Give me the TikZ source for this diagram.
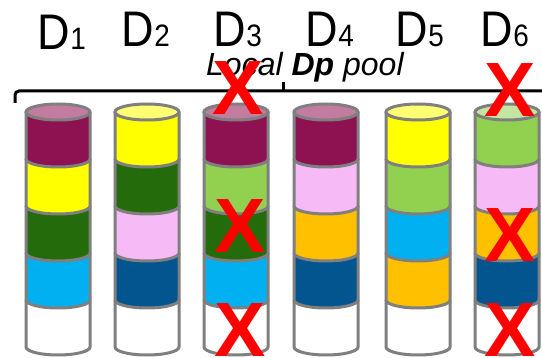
\documentclass[tikz,border=0pt]{standalone}
\usepackage{fontspec}
\setmainfont{Liberation Sans}

\definecolor{plum}{HTML}{8E1152}
\definecolor{lemon}{HTML}{FFFF00}
\definecolor{forest}{HTML}{236B0B}
\definecolor{sky}{HTML}{00B0F0}
\definecolor{blush}{HTML}{F6BAF6}
\definecolor{navy}{HTML}{02558E}
\definecolor{amber}{HTML}{FFC000}
\definecolor{lime}{HTML}{92D050}
\definecolor{rimgray}{HTML}{7F7F7F}

\begin{document}
\begin{tikzpicture}[x=1pt,y=-1pt,
        disk/.style = {draw = rimgray, line width = 3pt},
        lbl/.style = {anchor = base, xscale = 0.9, inner sep = 0pt, font = \fontsize{50}{50}\selectfont},
        cross/.style = {text = red, inner sep = 0pt, font = \fontsize{77}{77}\selectfont\bfseries}]
    \path[use as bounding box, fill = white] (0,0) rectangle (542,358);
    % disk stacks, layers listed top to bottom, white spare at the foot
    \foreach \cx/\lyrA/\lyrB/\lyrC/\lyrD in {58/plum/lemon/forest/sky, 147/lemon/forest/blush/navy,
            236/plum/lime/forest/sky, 326/plum/blush/amber/navy,
            418/lemon/lime/sky/amber, 507/lime/blush/amber/navy} {
        \foreach \col [count = \k] in {white,\lyrD,\lyrC,\lyrB,\lyrA} {
            \pgfmathsetmacro{\yt}{112 + (5 - \k)*47}
            \filldraw[disk, fill = \col] (\cx-32,\yt) -- (\cx-32,\yt+47)
                arc[start angle = 180, end angle = 0, x radius = 32, y radius = 8] -- (\cx+32,\yt);
        }
        \filldraw[disk, fill = \lyrA!55!white] (\cx,112) ellipse[x radius = 32, y radius = 8];
    }
    % drive names
    \foreach \n/\x/\y in {1/62/50, 2/146/47, 3/238/47, 4/330/47, 5/420/47, 6/505/47}
        \node[lbl] (d\n) at (\x,\y) {D{\fontsize{31}{31}\selectfont\n}};
    % pool brace
    \draw[line width = 3pt, rounded corners = 4pt] (15,103) -- (15,91) -- (542,91);
    \draw[line width = 3pt] (283,91) -- (283,82);
    \node[anchor = base west, inner sep = 0pt, font = \fontsize{32}{32}\selectfont\itshape] (pool) at (206,76) {Local \textbf{Dp} pool};
    % failed blocks
    \foreach \x/\y [count = \i] in {238/88, 240/226, 240/330, 510/90, 510/235, 510/330}
        \node[cross] (x\i) at (\x,\y) {X};
\end{tikzpicture}
\end{document}
